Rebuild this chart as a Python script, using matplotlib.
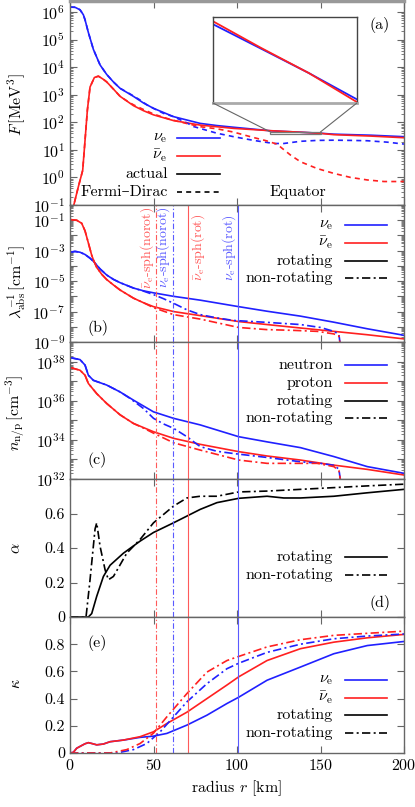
import matplotlib
matplotlib.use('Agg')
import matplotlib.pyplot as plt
from matplotlib.patches import Rectangle, ConnectionPatch
from matplotlib.ticker import FixedLocator, NullFormatter
import numpy as np

plt.rcParams['font.family'] = ['cmr10', 'DejaVu Serif']
plt.rcParams['mathtext.fontset'] = 'cm'
plt.rcParams['axes.formatter.use_mathtext'] = True
plt.rcParams['font.size'] = 11.5

BLUE = '#2020ff'
RED = '#ff2020'
VBLUE = '#5a5aff'
VRED = '#ff5a5a'
FRAME = '#666666'
DD = (0, (5, 2, 1.2, 2))
DASH = (0, (3, 2.5))

# ---- panel (a): F [MeV^3], actual and Fermi-Dirac ----
r_a_nue = [0, 3, 6, 8, 9, 11, 14, 18, 22, 26, 30, 38, 44, 50, 62, 78, 88, 98,
           120, 130, 140, 150, 158, 180, 200]
F_nue = [1.5e6, 1.48e6, 1.2e6, 7.9e5, 5.2e5, 1.8e5, 4.4e4, 1.2e4, 5.4e3, 2.9e3,
         1.7e3, 870, 500, 320, 160, 91, 76, 66, 49.2, 46.0, 43.0, 40.0, 37, 34, 30]
r_a_nuebar = [1.5, 2, 5, 7.6, 9, 10.4, 12, 14.6, 17, 20, 22, 26, 30, 38, 44, 50,
              62, 78, 98, 120, 130, 140, 150, 158, 180, 200]
F_nuebar = [0.06, 0.085, 0.46, 1.8, 22, 275, 1.9e3, 4.2e3, 4.7e3, 3.6e3, 2.9e3,
            1.6e3, 870, 400, 263, 186, 115, 79, 60, 49.6, 46.1, 43.0, 39.7, 35.5,
            31.6, 27.5]
r_a_nue_fd = [0, 3, 6, 8, 9, 11, 14, 18, 22, 26, 30, 34, 38, 42, 46, 50, 56, 62,
              70, 74, 80, 88, 98, 110, 122, 128, 138, 148, 158, 168, 178, 190, 200]
F_nue_fd = [1.5e6, 1.48e6, 1.2e6, 7.9e5, 5.2e5, 1.8e5, 4.4e4, 1.2e4, 5.4e3, 2.9e3,
            1.7e3, 1.25e3, 900, 640, 430, 320, 210, 160, 95, 70, 55, 40, 30, 22,
            17, 17, 20.4, 22, 22.4, 22, 21.4, 19, 16.2]
r_a_nuebar_fd = [1.5, 2, 5, 7.6, 9, 10.4, 12, 14.6, 17, 20, 22, 26, 30, 34, 38, 44,
                 50, 56, 62, 70, 78, 88, 98, 108, 118, 124, 132, 138, 148, 158,
                 168, 178, 188, 200]
F_nuebar_fd = [0.06, 0.085, 0.46, 1.8, 22, 275, 1.9e3, 4.2e3, 4.7e3, 3.6e3, 2.9e3,
               1.6e3, 870, 600, 430, 290, 200, 150, 118, 90, 69, 58, 44, 30, 21,
               16, 6.5, 3.7, 2.1, 1.4, 1.0, 0.81, 0.71, 0.71]

# ---- panel (b): inverse absorption length [cm^-1] ----
r_b_nue = [0, 3, 6, 9, 12, 14, 18, 22, 26, 30, 38, 44, 50, 62, 78, 101, 118, 138,
           158, 178, 200]
lam_nue = [7.9e-4, 8.9e-4, 7.9e-4, 5.6e-4, 3.2e-4, 2.0e-4, 6.3e-5, 2.5e-5, 1.3e-5,
           7.9e-6, 3.5e-6, 2.3e-6, 1.7e-6, 1.0e-6, 5.6e-7, 2.1e-7, 1.05e-7, 5.0e-8,
           2.0e-8, 7.4e-9, 2.75e-9]
r_b_nuebar = [0, 4, 7, 9, 11, 13, 14, 16, 19, 22, 26, 30, 38, 44, 50, 62, 78, 101,
              118, 138, 158, 178, 200]
lam_nuebar = [1.1e-1, 1.0e-1, 6.3e-2, 2.0e-2, 3.2e-3, 5.0e-4, 2.5e-4, 7.9e-5, 2.8e-5,
              1.26e-5, 5.6e-6, 2.6e-6, 7.6e-7, 3.8e-7, 2.1e-7, 1.0e-7, 5.4e-8,
              2.2e-8, 1.4e-8, 8.3e-9, 5.0e-9, 3.0e-9, 1.6e-9]
r_b_nue_nr = [0, 3, 6, 9, 12, 14, 18, 22, 26, 30, 38, 44, 50, 56, 62, 70, 78, 88,
              98, 118, 138, 150, 158, 161, 162]
lam_nue_nr = [7.9e-4, 8.9e-4, 7.9e-4, 5.6e-4, 3.2e-4, 2.0e-4, 6.3e-5, 2.5e-5, 1.3e-5,
              7.9e-6, 3.5e-6, 2.2e-6, 1.3e-6, 7.0e-7, 3.5e-7, 1.3e-7, 6.3e-8,
              3.8e-8, 2.6e-8, 1.95e-8, 1.4e-8, 9e-9, 5e-9, 3.2e-9, 5e-10]
r_b_nuebar_nr = [0, 4, 7, 9, 11, 13, 14, 16, 19, 22, 26, 30, 38, 44, 50, 62, 78,
                 101, 118, 134, 148, 158, 161, 162]
lam_nuebar_nr = [1.1e-1, 1.0e-1, 6.3e-2, 2.0e-2, 3.2e-3, 5.0e-4, 2.5e-4, 7.9e-5,
                 2.8e-5, 1.26e-5, 5.6e-6, 2.6e-6, 7.6e-7, 3.8e-7, 1.8e-7, 6.3e-8,
                 3.2e-8, 9e-9, 6.5e-9, 5.8e-9, 5e-9, 3.4e-9, 2.5e-9, 5e-10]

# ---- panel (c): number densities [cm^-3] ----
r_c_n = [0, 6, 9, 11, 14, 22, 30, 38, 50, 62, 78, 101, 118, 138, 158, 178, 200]
n_neutron = [1.6e38, 1.26e38, 6.6e37, 2.0e37, 1.1e37, 6.3e36, 2.8e36, 1.07e36,
             2.7e35, 1.26e35, 5.8e34, 1.45e34, 7.9e33, 4.0e33, 1.4e33, 4.3e32, 1.95e32]
r_c_p = [0, 6, 9, 11, 16, 22, 30, 38, 50, 62, 78, 101, 118, 138, 158, 178, 200]
n_proton = [5.0e37, 3.6e37, 2.0e37, 7.6e36, 2.3e36, 7.2e35, 1.9e35, 6.9e34, 2.6e34,
            1.2e34, 5.9e33, 2.5e33, 1.5e33, 9.3e32, 5.1e32, 3.1e32, 1.6e32]
r_c_n_nr = [0, 6, 9, 11, 14, 22, 30, 36, 44, 50, 56, 62, 70, 78, 88, 98, 118, 138,
            150, 158, 161, 162]
n_neutron_nr = [1.6e38, 1.26e38, 6.6e37, 2.0e37, 1.1e37, 6.3e36, 2.8e36, 1.3e36,
                4.0e35, 1.26e35, 6.5e34, 3.9e34, 1.45e34, 4.5e33, 2.6e33, 2.0e33,
                1.26e33, 7.6e32, 6.3e32, 5.0e32, 3.2e32, 8e31]
r_c_p_nr = [0, 6, 9, 11, 16, 22, 30, 38, 44, 50, 62, 78, 101, 118, 134, 148, 158,
            161, 162]
n_proton_nr = [5.0e37, 3.6e37, 2.0e37, 7.6e36, 2.3e36, 7.2e35, 1.9e35, 6.9e34,
               4.0e34, 2.2e34, 7.1e33, 3.0e33, 9.3e32, 6.3e32, 6.3e32, 6.3e32,
               4.3e32, 2.7e32, 8e31]

# ---- panel (d): alpha ----
r_d_rot = [0, 11, 13, 16, 20, 24, 32, 42, 50, 62, 70, 78, 88, 101, 118, 128, 138,
           158, 178, 200]
alpha_rot = [0, 0, 0.02, 0.12, 0.235, 0.30, 0.37, 0.44, 0.49, 0.546, 0.585, 0.624,
             0.663, 0.688, 0.70, 0.69, 0.69, 0.70, 0.72, 0.74]
r_d_nr = [0, 9.6, 12, 15, 16, 18, 21, 23, 26, 34, 42, 50, 62, 70, 78, 88, 101, 118,
          138, 158, 178, 200]
alpha_nr = [0, 0, 0.216, 0.51, 0.546, 0.41, 0.274, 0.216, 0.235, 0.37, 0.45, 0.546,
            0.643, 0.69, 0.70, 0.70, 0.725, 0.73, 0.74, 0.75, 0.76, 0.77]

# ---- panel (e): kappa ----
r_e = [0, 2, 4, 7, 9, 11, 13, 16, 20, 24, 32, 42, 50, 58, 70, 82, 94, 101, 118,
       138, 158, 178, 200]
kappa_nuebar = [0, 0.005, 0.035, 0.055, 0.068, 0.076, 0.07, 0.06, 0.066, 0.083,
                0.095, 0.12, 0.156, 0.217, 0.30, 0.40, 0.50, 0.56, 0.68, 0.767,
                0.815, 0.847, 0.872]
kappa_nue = [0, 0.005, 0.035, 0.055, 0.068, 0.076, 0.07, 0.06, 0.066, 0.083, 0.095,
             0.115, 0.124, 0.144, 0.205, 0.278, 0.364, 0.41, 0.535, 0.632, 0.73,
             0.79, 0.82]
r_e_nuebar_nr = [0, 24, 34, 42, 50, 58, 70, 82, 94, 101, 118, 138, 158, 178, 200]
kappa_nuebar_nr = [0, 0, 0.025, 0.07, 0.146, 0.266, 0.437, 0.595, 0.68, 0.71, 0.78,
                   0.833, 0.865, 0.88, 0.896]
r_e_nue_nr = [0, 28, 38, 46, 54, 62, 70, 82, 94, 101, 118, 138, 158, 178, 200]
kappa_nue_nr = [0, 0, 0.025, 0.07, 0.156, 0.266, 0.376, 0.51, 0.62, 0.66, 0.74,
                0.80, 0.84, 0.86, 0.875]

# neutrinosphere radii [km]
sph_r = [51.3, 61.9, 70.5, 100.8]
sph_color = [VRED, VBLUE, VRED, VBLUE]
sph_style = [DD, DD, '-', '-']
sph_label = [r'$\bar{\nu}_{\rm e}$-sph(norot)', r'$\nu_{\rm e}$-sph(norot)',
             r'$\bar{\nu}_{\rm e}$-sph(rot)', r'$\nu_{\rm e}$-sph(rot)']
sph_label_x = [46.0, 56.0, 77.0, 95.0]

NU = r'$\nu_{\rm e}$'
NUBAR = r'$\bar{\nu}_{\rm e}$'


def key(ax, entries, xt, x0, x1):
    # gnuplot-like key: right aligned text, sample line on the right
    for label, y, color, ls in entries:
        ax.text(xt, y, label, transform=ax.transAxes, ha='right', va='center')
        ax.plot([x0, x1], [y, y], transform=ax.transAxes, color=color, ls=ls,
                lw=1.2, clip_on=False)


def style(ax, last=False):
    ax.set_xlim(0, 200)
    ax.set_xticks([0, 50, 100, 150, 200])
    if not last:
        ax.set_xticklabels([])
    ax.tick_params(which='both', direction='in', top=True, right=True,
                   color=FRAME, labelsize=11.5)
    ax.tick_params(which='major', length=5)
    ax.tick_params(which='minor', length=2.5)
    for s in ax.spines.values():
        s.set_color(FRAME)
        s.set_linewidth(1.0)


def log_ticks(ax, lo, hi, labeled):
    decades = list(range(lo, hi + 1))
    ax.yaxis.set_major_locator(FixedLocator([10.0 ** d for d in decades]))
    ax.set_yticklabels([r'$10^{%d}$' % d if d in labeled else '' for d in decades])
    minors = [m * 10.0 ** d for d in range(lo, hi) for m in range(2, 10)]
    ax.yaxis.set_minor_locator(FixedLocator(minors))
    ax.yaxis.set_minor_formatter(NullFormatter())


fig = plt.figure(figsize=(4.15, 8.07), dpi=100)
L, W = 70 / 415, 334 / 415
H = 807
ax_a = fig.add_axes([L, 1 - 205 / H, W, 204 / H])
ax_b = fig.add_axes([L, 1 - 342 / H, W, 137 / H])
ax_c = fig.add_axes([L, 1 - 479 / H, W, 137 / H])
ax_d = fig.add_axes([L, 1 - 617 / H, W, 138 / H])
ax_e = fig.add_axes([L, 1 - 753 / H, W, 136 / H])

# (a)
ax_a.set_yscale('log')
ax_a.plot(r_a_nue, F_nue, color=BLUE, lw=1.2)
ax_a.plot(r_a_nuebar, F_nuebar, color=RED, lw=1.2)
ax_a.plot(r_a_nue_fd, F_nue_fd, color=BLUE, lw=1.2, ls=DASH)
ax_a.plot(r_a_nuebar_fd, F_nuebar_fd, color=RED, lw=1.2, ls=DASH)
ax_a.set_ylim(0.1, 2.5e6)
style(ax_a)
log_ticks(ax_a, -1, 6, range(-1, 7))
ax_a.spines['top'].set_linewidth(2.5)
ax_a.spines['top'].set_color('#999999')
ax_a.set_ylabel(r'$F\,[\mathrm{MeV}^3]$')
ax_a.yaxis.set_label_coords(-0.125, 0.49)
key(ax_a, [(NU, 0.328, BLUE, '-'), (NUBAR, 0.24, RED, '-'),
           ('actual', 0.152, 'black', '-'), ('Fermi–Dirac', 0.064, 'black', DASH)],
    0.292, 0.32, 0.449)
ax_a.text(0.683, 0.064, 'Equator', transform=ax_a.transAxes, ha='center', va='center')
ax_a.text(0.928, 0.882, '(a)', transform=ax_a.transAxes, ha='center', va='center')

# inset zoom of the region 120-150 km
ins = ax_a.inset_axes([0.428, 0.5, 0.431, 0.422])
ins.plot(r_a_nue, F_nue, color=BLUE, lw=1.3)
ins.plot(r_a_nuebar, F_nuebar, color=RED, lw=1.3)
ins.set_xlim(120, 150)
ins.set_yscale('log')
ins.set_ylim(39.6, 50.2)
ins.set_xticks([])
ins.set_yticks([])
ins.minorticks_off()
for s in ins.spines.values():
    s.set_color('#444444')
    s.set_linewidth(1.0)
ins.spines['bottom'].set_color('#aaaaaa')
ins.spines['bottom'].set_linewidth(2.0)
y_lo, y_hi = 10 ** 1.56, 10 ** 1.65
ax_a.add_patch(Rectangle((120, y_lo), 30, y_hi - y_lo, fill=False,
                         ec='#777777', lw=0.9, zorder=5))
for xa, xd in [(0, 120), (1, 150)]:
    con = ConnectionPatch(xyA=(xa, 0), coordsA=ins.transAxes, xyB=(xd, y_hi),
                          coordsB=ax_a.transData, color='#666666', lw=0.8)
    fig.add_artist(con)

# (b)
ax_b.set_yscale('log')
ax_b.plot(r_b_nue, lam_nue, color=BLUE, lw=1.2)
ax_b.plot(r_b_nuebar, lam_nuebar, color=RED, lw=1.2)
ax_b.plot(r_b_nue_nr, lam_nue_nr, color=BLUE, lw=1.2, ls=DD)
ax_b.plot(r_b_nuebar_nr, lam_nuebar_nr, color=RED, lw=1.2, ls=DD)
ax_b.set_ylim(1e-9, 1)
style(ax_b)
log_ticks(ax_b, -9, 0, [-9, -7, -5, -3, -1])
ax_b.set_ylabel(r'$\lambda^{-1}_{\rm abs}\,[\mathrm{cm}^{-1}]$')
ax_b.yaxis.set_label_coords(-0.125, 0.44)
key(ax_b, [(NU, 0.854, BLUE, '-'), (NUBAR, 0.725, RED, '-'),
           ('rotating', 0.591, 'black', '-'), ('non-rotating', 0.465, 'black', DD)],
    0.788, 0.823, 0.948)
ax_b.text(0.085, 0.104, '(b)', transform=ax_b.transAxes, ha='center', va='center')
for x, c, lab in zip(sph_label_x, sph_color, sph_label):
    ax_b.text(x, 10 ** -2.8, lab, color=c, rotation=90, fontsize=10,
              ha='center', va='center')

# (c)
ax_c.set_yscale('log')
ax_c.plot(r_c_n, n_neutron, color=BLUE, lw=1.2)
ax_c.plot(r_c_p, n_proton, color=RED, lw=1.2)
ax_c.plot(r_c_n_nr, n_neutron_nr, color=BLUE, lw=1.2, ls=DD)
ax_c.plot(r_c_p_nr, n_proton_nr, color=RED, lw=1.2, ls=DD)
ax_c.set_ylim(1e32, 1e39)
style(ax_c)
log_ticks(ax_c, 32, 39, [32, 34, 36, 38])
ax_c.set_ylabel(r'$n_{\rm n/p}\,[\mathrm{cm}^{-3}]$')
ax_c.yaxis.set_label_coords(-0.125, 0.48)
key(ax_c, [('neutron', 0.832, BLUE, '-'), ('proton', 0.698, RED, '-'),
           ('rotating', 0.571, 'black', '-'), ('non-rotating', 0.443, 'black', DD)],
    0.788, 0.823, 0.948)
ax_c.text(0.08, 0.139, '(c)', transform=ax_c.transAxes, ha='center', va='center')

# (d)
ax_d.plot(r_d_rot, alpha_rot, color='black', lw=1.2)
ax_d.plot(r_d_nr, alpha_nr, color='black', lw=1.2, ls=DD)
ax_d.set_ylim(0, 0.8)
style(ax_d)
ax_d.set_yticks([0, 0.2, 0.4, 0.6, 0.8], ['0', '0.2', '0.4', '0.6', ''])
ax_d.set_ylabel(r'$\alpha$')
ax_d.yaxis.set_label_coords(-0.14, 0.5)
key(ax_d, [('rotating', 0.433, 'black', '-'), ('non-rotating', 0.304, 'black', DD)],
    0.788, 0.823, 0.948)
ax_d.text(0.928, 0.099, '(d)', transform=ax_d.transAxes, ha='center', va='center')

# (e)
ax_e.plot(r_e, kappa_nue, color=BLUE, lw=1.2)
ax_e.plot(r_e, kappa_nuebar, color=RED, lw=1.2)
ax_e.plot(r_e_nue_nr, kappa_nue_nr, color=BLUE, lw=1.2, ls=DD)
ax_e.plot(r_e_nuebar_nr, kappa_nuebar_nr, color=RED, lw=1.2, ls=DD)
ax_e.set_ylim(0, 1)
style(ax_e, last=True)
ax_e.set_yticks([0, 0.2, 0.4, 0.6, 0.8, 1.0], ['0', '0.2', '0.4', '0.6', '0.8', ''])
ax_e.set_ylabel(r'$\kappa$')
ax_e.yaxis.set_label_coords(-0.14, 0.51)
ax_e.set_xlabel(r'radius $r$ [km]')
key(ax_e, [(NU, 0.537, BLUE, '-'), (NUBAR, 0.407, RED, '-'),
           ('rotating', 0.279, 'black', '-'), ('non-rotating', 0.145, 'black', DD)],
    0.788, 0.823, 0.948)
ax_e.text(0.08, 0.807, '(e)', transform=ax_e.transAxes, ha='center', va='center')

# neutrinosphere markers through panels b-e
for ax in (ax_b, ax_c, ax_d, ax_e):
    for x, c, ls in zip(sph_r, sph_color, sph_style):
        ax.axvline(x, color=c, ls=ls, lw=0.8)

fig.savefig('out.png', dpi=100)
